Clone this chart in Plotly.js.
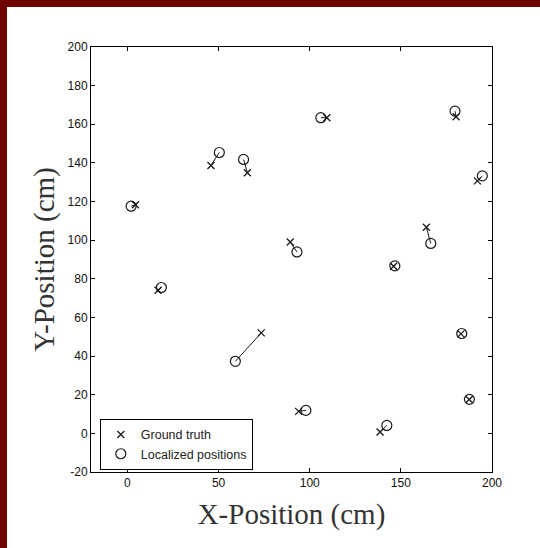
<!DOCTYPE html>
<html>
<head>
<meta charset="utf-8">
<script src="https://cdn.plot.ly/plotly-3.0.1.min.js"></script>
<style>
  html, body { margin: 0; padding: 0; background: #700000; width: 540px; height: 548px; overflow: hidden; }
  #chart { position: absolute; left: 7px; top: 7px; width: 533px; height: 541px; background: #ffffff; }
</style>
</head>
<body>
<div id="chart"></div>
<script>
// Ground truth positions (cm)
const truthX = [4.4, 16.8, 45.8, 65.8, 73.4, 89.3, 93.9, 109.4, 138.6, 146.0, 164.0, 180.3, 183.0, 187.5, 192.0];
const truthY = [118.3, 74.1, 138.7, 134.9, 52.0, 99.1, 11.4, 163.4, 0.7, 86.5, 106.7, 163.9, 51.5, 17.5, 130.7];
// Localized positions (cm)
const estX = [2.0, 18.6, 50.4, 63.7, 59.2, 93.0, 97.9, 106.1, 142.3, 146.7, 166.4, 179.7, 183.4, 187.6, 194.7];
const estY = [117.6, 75.5, 145.4, 141.8, 37.3, 93.9, 11.9, 163.4, 4.1, 86.7, 98.3, 166.8, 51.7, 17.6, 133.3];

const xTicks = [0, 50, 100, 150, 200];
const yTicks = [-20, 0, 20, 40, 60, 80, 100, 120, 140, 160, 180, 200];

// error segments from ground truth to localized position
const segX = [], segY = [];
for (let i = 0; i < truthX.length; i++) {
  segX.push(truthX[i], estX[i], null);
  segY.push(truthY[i], estY[i], null);
}

const ink = '#1a1a1a';
const traces = [
  { x: segX, y: segY, mode: 'lines', line: { color: ink, width: 1 }, showlegend: false, hoverinfo: 'skip' },
  { x: truthX, y: truthY, mode: 'markers', name: 'Ground truth',
    marker: { symbol: 'x-thin-open', size: 7, color: ink, line: { color: ink, width: 1.3 } } },
  { x: estX, y: estY, mode: 'markers', name: 'Localized positions',
    marker: { symbol: 'circle-open', size: 10, color: ink, line: { color: ink, width: 1.2 } } }
];

const tickFont = { family: 'Liberation Sans, Arial, sans-serif', size: 12, color: '#111' };
const titleFont = { family: 'Liberation Serif, DejaVu Serif, serif', size: 29, color: '#333' };

const layout = {
  width: 533, height: 541,
  margin: { l: 84, r: 48, t: 40, b: 76 },
  paper_bgcolor: '#ffffff', plot_bgcolor: '#ffffff',
  font: tickFont,
  xaxis: {
    range: [-20, 200], tickmode: 'array', tickvals: xTicks, ticktext: xTicks.map(String),
    ticks: 'inside', ticklen: 4, tickcolor: '#000', mirror: 'ticks', showline: true, linecolor: '#000', linewidth: 1,
    showgrid: false, zeroline: false, tickfont: tickFont,
    title: { text: 'X-Position (cm)', font: titleFont, standoff: 14 }
  },
  yaxis: {
    range: [-20, 200], tickmode: 'array', tickvals: yTicks, ticktext: yTicks.map(v => v < 0 ? '-' + Math.abs(v) : String(v)),
    ticks: 'inside', ticklen: 4, tickcolor: '#000', mirror: 'ticks', showline: true, linecolor: '#000', linewidth: 1,
    showgrid: false, zeroline: false, tickfont: tickFont,
    title: { text: 'Y-Position (cm)', font: titleFont, standoff: 4 }
  },
  showlegend: true,
  legend: {
    x: 0.022, y: 0.125, xanchor: 'left', yanchor: 'top',
    bgcolor: '#ffffff', bordercolor: '#000', borderwidth: 1,
    font: { family: 'Liberation Sans, Arial, sans-serif', size: 12.5, color: '#222' },
    tracegroupgap: 0, itemwidth: 30
  }
};

Plotly.newPlot('chart', traces, layout, { displayModeBar: false, staticPlot: true });
</script>
</body>
</html>
